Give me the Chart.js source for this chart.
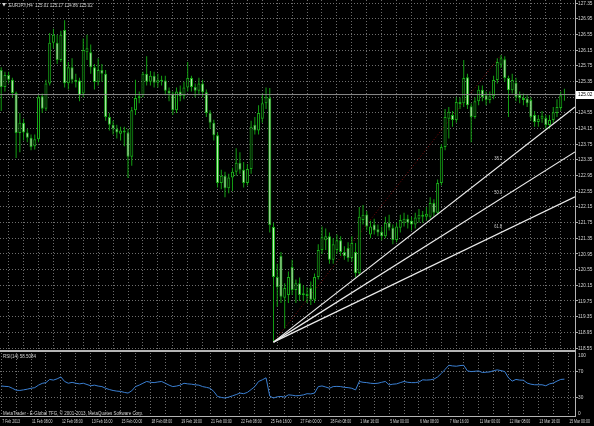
<!DOCTYPE html>
<html><head><meta charset="utf-8">
<script src="https://cdn.jsdelivr.net/npm/chart.js@4/dist/chart.umd.min.js"></script>
<style>
html,body{margin:0;padding:0;background:#000;width:594px;height:426px;overflow:hidden}
canvas{position:absolute;left:0}
#main{top:0}
#rsi{top:351px}
</style></head>
<body>
<canvas id="main" width="594" height="351"></canvas>
<canvas id="rsi" width="594" height="75"></canvas>
<script>
// ---------------- data ----------------
const symbolTitle = 'EURJPY,H4  125.01 125.17 124.86 125.02';
const rsiTitle = 'RSI(14) 58.5084';
const copyrightText = 'MetaTrader - E-Global TFG, \u00A9 2001-2013, MetaQuotes Software Corp.';

const opens = [125.65,125.21,125.52,125.40,125.06,124.04,124.30,124.05,123.92,123.70,
123.88,124.98,124.66,125.30,126.34,126.34,125.90,126.67,125.31,125.72,
125.40,125.38,125.05,126.10,126.10,125.72,125.35,125.65,125.55,124.45,
124.25,124.15,124.02,124.10,124.05,123.43,124.62,124.93,125.00,125.55,
125.35,125.50,125.32,125.40,125.38,125.12,125.05,124.62,125.10,124.98,
125.20,125.44,125.21,125.12,125.30,125.08,124.55,124.30,123.98,122.76,
122.95,122.63,122.90,123.05,123.28,123.10,122.76,123.12,124.25,124.10,
124.40,124.80,124.93,121.64,120.36,120.90,119.83,119.90,120.62,120.03,
120.20,119.90,119.93,120.08,119.78,120.36,121.05,121.30,121.40,120.80,
121.05,121.30,121.00,121.10,120.85,121.00,120.46,121.82,121.96,121.45,
121.70,121.58,121.52,121.40,121.75,121.62,121.31,121.62,121.75,121.85,
121.80,121.70,121.85,121.95,121.90,121.90,122.25,122.00,122.76,123.68,
124.40,124.50,124.37,124.83,124.80,125.46,124.72,124.45,124.85,125.14,
125.00,124.88,124.98,125.39,125.78,125.92,125.44,125.13,125.32,125.01,
124.93,124.92,124.88,124.50,124.32,124.40,124.42,124.24,124.37,124.55,
124.68,125.01];
const highs = [125.72,125.60,125.60,125.45,125.10,124.55,124.40,124.15,124.00,124.00,
125.00,125.05,125.40,126.59,126.70,126.55,126.65,126.92,125.85,125.95,
125.55,125.45,126.45,126.55,126.30,125.80,125.95,125.80,125.65,124.55,
124.35,124.25,124.20,124.20,124.15,124.70,125.40,125.10,125.60,126.00,
125.62,125.60,125.55,125.50,125.50,125.20,125.10,125.20,125.25,125.35,
125.85,125.50,125.30,125.45,125.40,125.15,124.62,124.38,124.05,123.10,
123.05,123.00,123.15,123.65,123.55,123.30,123.25,124.35,124.45,124.75,
125.05,125.20,125.19,121.75,120.70,121.00,120.20,120.50,120.80,120.30,
120.35,120.15,120.10,120.25,120.45,121.20,121.65,121.60,121.50,121.35,
121.45,121.40,121.15,121.25,121.40,121.23,122.15,122.20,122.05,121.80,
121.85,121.70,121.65,121.90,121.95,121.70,121.75,121.95,122.00,121.95,
121.90,122.00,122.10,122.05,122.15,122.40,122.35,122.85,123.75,124.65,
124.70,124.60,124.95,124.95,125.90,125.55,124.80,124.95,125.25,125.25,
125.10,125.10,125.50,125.95,126.03,126.00,125.50,125.55,125.45,125.10,
125.05,125.00,124.95,124.60,124.50,124.60,124.50,124.50,124.70,124.90,
125.10,125.17];
const lows = [124.60,125.10,125.30,124.95,123.40,123.55,123.85,123.80,123.60,123.62,
123.80,124.55,124.60,125.25,126.20,125.80,125.85,125.20,125.15,125.30,
125.20,124.85,124.95,125.90,125.55,125.15,125.25,125.35,124.35,124.10,
124.00,123.90,123.85,123.70,122.89,123.20,124.50,124.80,124.95,125.25,
125.25,125.20,125.20,125.25,125.00,124.85,124.50,124.55,124.85,124.90,
125.10,125.10,124.95,125.00,124.95,124.45,124.15,123.85,122.65,122.60,
122.40,122.50,122.55,122.95,123.00,122.65,122.70,123.00,124.00,124.00,
124.30,124.65,121.50,118.70,119.60,119.70,119.05,119.70,119.90,119.70,
119.75,119.75,119.70,119.65,119.70,120.30,120.95,121.05,120.70,120.70,
120.95,120.90,120.80,120.75,120.75,120.35,120.40,121.70,121.55,121.35,
121.45,121.40,121.30,121.35,121.55,121.20,121.25,121.50,121.65,121.60,
121.55,121.60,121.75,121.75,121.80,121.85,121.90,121.95,122.70,123.60,
123.90,124.20,124.30,124.65,124.70,124.65,123.80,124.40,124.75,124.85,
124.75,124.80,124.90,125.30,125.70,125.35,124.45,125.05,124.85,124.80,
124.75,124.70,124.35,124.20,124.20,124.30,124.15,124.15,124.30,124.45,
124.60,124.86];
const closes = [125.21,125.52,125.40,125.06,124.04,124.30,124.05,123.92,123.68,123.88,
124.95,124.66,125.30,126.34,126.55,125.90,126.55,125.31,125.72,125.40,
125.34,125.00,126.16,126.20,125.72,125.34,125.65,125.55,124.45,124.25,
124.15,124.05,124.10,124.05,123.43,124.62,124.93,124.98,125.55,125.35,
125.50,125.32,125.40,125.36,125.12,125.05,124.62,125.10,124.98,125.20,
125.44,125.21,125.12,125.30,125.08,124.55,124.30,123.98,122.76,122.95,
122.63,122.90,123.05,123.28,123.10,122.76,123.12,124.20,124.10,124.55,
124.80,124.95,121.69,120.36,120.10,119.86,120.08,120.36,120.03,120.20,
119.90,119.95,119.88,119.78,120.36,121.05,121.38,121.40,120.80,121.20,
121.30,121.00,120.90,120.85,121.23,120.46,121.90,121.95,121.65,121.65,
121.55,121.50,121.40,121.75,121.62,121.31,121.65,121.82,121.85,121.75,
121.70,121.88,121.95,121.90,121.98,122.25,122.00,122.76,123.68,124.45,
124.58,124.37,124.83,124.78,125.44,124.75,124.45,124.85,125.14,124.95,
124.88,124.98,125.39,125.85,125.95,125.44,125.13,125.39,124.95,124.93,
124.88,124.80,124.45,124.32,124.40,124.48,124.24,124.37,124.57,124.70,
125.00,125.02];
const rsiValues = [47.7,47,46.7,44,41,40.6,41.5,42.6,44,45,
49,51.8,53,58,57,59,62,54.8,52,53.4,
52,51,52,50,48,49,47.5,46.7,44,42,
40.5,39.5,39,37.5,36.4,40,46.7,49,52,54.8,
53.5,53,54,54.8,52,49,46.7,47.5,49,52,
51,50.5,49.5,49,46.7,45.5,44,39,31,29.5,
28.5,30,32,34,36.4,35.4,37.5,42,46.7,54.8,
57.4,60.6,31.5,28.5,30.5,31,30,33.6,33,32,
32.5,33.5,35.4,35,36.4,46.6,47.7,46,44,46.7,
47,46.7,45.5,45,44,41.4,54.8,53.5,53,52,
51.5,52,53.5,54.8,49.4,50.5,51,53,54.8,53.5,
53,53,54,57.4,57,57.4,58.5,62,67.5,74,
80.5,79.5,79,80,80.5,71.6,70.5,71,71.6,69,
69.5,70,72,73.2,72,70.5,60.6,55.4,58,57,
56.8,52.3,50.5,49.6,49.6,49.6,48,51,52.3,55.4,
58,58.5];
const priceTicks = [127.35,126.95,126.55,126.15,125.75,125.35,124.95,124.55,124.15,123.75,
123.35,122.95,122.55,122.15,121.75,121.35,120.95,120.55,120.15,119.75,119.35,118.95,118.55];
const timeLabels = ['7 Feb 2013','11 Feb 08:00','12 Feb 08:00','13 Feb 16:00','15 Feb 00:00',
'18 Feb 08:00','19 Feb 16:00','21 Feb 00:00','22 Feb 08:00','25 Feb 16:00','27 Feb 00:00',
'28 Feb 08:00','1 Mar 16:00','5 Mar 00:00','6 Mar 08:00','7 Mar 16:00','11 Mar 00:00',
'12 Mar 08:00','13 Mar 16:00','15 Mar 00:00'];
const barsPerLabel = 8;
const barsPerGrid = 4;
const bidPrice = 125.02;
const fanLow = {bar: 73, price: 118.70};
const fanHigh = {bar: 134, price: 126.03};
const fanLevels = [38.2, 50.0, 61.8];
const rsiLevels = [70, 30];
const rsiAxisLabels = [100, 70, 30, 0];

// ---------------- options ----------------
const X_MIN = -0.32, X_MAX = 153.83;
const Y_MIN = 118.499, Y_MAX = 127.434;
const FONT_FAMILY = "'Liberation Sans',Arial,sans-serif";
const FONT_SIZE = 5.5;
const FONT = FONT_SIZE + 'px ' + FONT_FAMILY;
const TEXT = '#d4d4d4';
const GRID = '#6e6e6e';
const FRAME = '#b4b4b4';
const WICK = '#13a013';
const BULL_FILL = '#000000';
const BEAR_FILL = '#c4f2bc';
const EDGE = '#19ac19';

Chart.defaults.font.family = FONT_FAMILY;
Chart.defaults.font.size = FONT_SIZE;
Chart.defaults.color = TEXT;

const idx = opens.map((_, i) => i);
const gridBars = [];
for (let b = 0; b <= X_MAX; b += barsPerGrid) gridBars.push(b);

function fanPrice(level, bar) {
  const through = fanHigh.price - level / 100 * (fanHigh.price - fanLow.price);
  return fanLow.price + (through - fanLow.price) * (bar - fanLow.bar) / (fanHigh.bar - fanLow.bar);
}
const fanDatasets = fanLevels.map(l => ({
  type: 'line', order: 0,
  data: [{x: fanLow.bar, y: fanLow.price}, {x: X_MAX, y: fanPrice(l, X_MAX)}],
  borderColor: '#ececec', borderWidth: 1.2, pointRadius: 0, tension: 0
}));

// condensed text helper (the reference uses a narrow UI font)
function text(ctx, str, x, y, sx, align, baseline) {
  ctx.save();
  ctx.translate(x, y);
  ctx.scale(sx, 1);
  ctx.textAlign = align || 'left';
  ctx.textBaseline = baseline || 'middle';
  ctx.fillText(str, 0, 0);
  ctx.restore();
}

const mainPlugin = {
  id: 'mainDecor',
  afterDraw(chart) {
    const {ctx, chartArea: a, scales: {x, y}} = chart;
    ctx.save();
    ctx.strokeStyle = FRAME; ctx.lineWidth = 1;
    ctx.beginPath();
    ctx.moveTo(a.right + 0.5, 0); ctx.lineTo(a.right + 0.5, a.bottom + 1);
    ctx.moveTo(0, a.bottom + 0.5); ctx.lineTo(a.right, a.bottom + 0.5);
    ctx.stroke();
    ctx.font = FONT;
    // price axis labels
    ctx.fillStyle = TEXT;
    priceTicks.forEach(v => text(ctx, v.toFixed(2), a.right + 3, y.getPixelForValue(v), 0.86));
    // fan labels
    ctx.fillStyle = '#c8c8c8';
    fanLevels.forEach(l => {
      const px = x.getPixelForValue(fanHigh.bar) - 3;
      const py = y.getPixelForValue(fanPrice(l, fanHigh.bar)) - 3;
      text(ctx, l.toFixed(1), px, py, 0.72, 'center', 'bottom');
    });
    // bid label
    const by = y.getPixelForValue(bidPrice);
    ctx.fillStyle = '#ffffff';
    ctx.fillRect(a.right + 1, Math.round(by) - 4, 18, 8);
    ctx.fillStyle = '#000000';
    text(ctx, bidPrice.toFixed(2), a.right + 3, by, 0.86);
    // title
    ctx.fillStyle = TEXT;
    ctx.beginPath(); ctx.moveTo(2, 3); ctx.lineTo(6, 3); ctx.lineTo(4, 6.5); ctx.closePath(); ctx.fill();
    text(ctx, symbolTitle, 9, 5, 0.8);
    ctx.restore();
  }
};

new Chart(document.getElementById('main'), {
  type: 'bar',
  data: {
    datasets: [
      ...fanDatasets,
      {type: 'line', order: 0, data: [{x: X_MIN, y: bidPrice}, {x: X_MAX, y: bidPrice}],
       borderColor: '#8a8a8a', borderWidth: 1, pointRadius: 0},
      {type: 'bar', order: 1, grouped: false, barThickness: 3, minBarLength: 1,
       data: idx.map(i => ({x: i, y: [opens[i], closes[i]]})),
       backgroundColor: idx.map(i => closes[i] >= opens[i] ? BULL_FILL : BEAR_FILL),
       borderColor: EDGE, borderWidth: 1, borderSkipped: false, inflateAmount: 0},
      {type: 'bar', order: 2, grouped: false, barThickness: 1,
       data: idx.map(i => ({x: i, y: [lows[i], highs[i]]})),
       backgroundColor: WICK, borderWidth: 0, inflateAmount: 0},
      {type: 'line', order: 3, data: [{x: fanLow.bar, y: fanLow.price}, {x: fanHigh.bar, y: fanHigh.price}],
       borderColor: '#7a0a0a', borderWidth: 1, borderDash: [1, 2], pointRadius: 0}
    ]
  },
  options: {
    responsive: false, animation: false, devicePixelRatio: 1, events: [],
    layout: {padding: {left: 0, right: 0, top: 0, bottom: 1}},
    plugins: {legend: {display: false}, tooltip: {enabled: false}},
    scales: {
      x: {type: 'linear', min: X_MIN, max: X_MAX, offset: false,
        afterBuildTicks: s => { s.ticks = gridBars.map(v => ({value: v})); },
        ticks: {display: false},
        grid: {color: GRID, drawTicks: false},
        border: {display: false, dash: [1, 2]},
        afterFit: s => { s.height = 0; s.paddingLeft = 0; s.paddingRight = 0; }},
      y: {type: 'linear', position: 'right', min: Y_MIN, max: Y_MAX,
        afterBuildTicks: s => { s.ticks = priceTicks.map(v => ({value: v})); },
        ticks: {display: false},
        grid: {color: GRID, drawTicks: true, tickLength: 3, tickColor: '#a8a8a8', tickBorderDash: []},
        border: {display: false, dash: [1, 2]},
        afterFit: s => { s.width = 19; s.paddingTop = 0; s.paddingBottom = 0; }}
    }
  },
  plugins: [mainPlugin]
});

const rsiPlugin = {
  id: 'rsiDecor',
  afterDraw(chart) {
    const {ctx, chartArea: a, scales: {x, y}} = chart;
    ctx.save();
    ctx.strokeStyle = FRAME; ctx.lineWidth = 1;
    ctx.beginPath();
    ctx.moveTo(0, 0.5); ctx.lineTo(a.right, 0.5);
    ctx.moveTo(a.right + 0.5, 0); ctx.lineTo(a.right + 0.5, a.bottom + 1);
    ctx.moveTo(0, a.bottom + 0.5); ctx.lineTo(a.right, a.bottom + 0.5);
    ctx.stroke();
    ctx.font = FONT;
    ctx.fillStyle = TEXT;
    rsiAxisLabels.forEach(v => {
      const py = y.getPixelForValue(v);
      const base = v === 100 ? 'top' : (v === 0 ? 'bottom' : 'middle');
      text(ctx, String(v), a.right + 3, py + (v === 100 ? 0 : 0), 0.86, 'left', base);
    });
    // time axis labels
    timeLabels.forEach((t, k) => {
      text(ctx, t, x.getPixelForValue(k * barsPerLabel) + 1, a.bottom + 5, 0.64, 'left', 'middle');
    });
    text(ctx, rsiTitle, 3, 5, 0.82);
    text(ctx, copyrightText, 3, a.bottom - 3, 0.81);
    ctx.restore();
  }
};

new Chart(document.getElementById('rsi'), {
  type: 'line',
  data: {
    datasets: [{
      data: idx.map(i => ({x: i, y: rsiValues[i]})),
      borderColor: '#3a7fd2', borderWidth: 1, pointRadius: 0, tension: 0
    }]
  },
  options: {
    responsive: false, animation: false, devicePixelRatio: 1, events: [],
    layout: {padding: {left: 0, right: 0, top: 2, bottom: 0}},
    plugins: {legend: {display: false}, tooltip: {enabled: false}},
    scales: {
      x: {type: 'linear', min: X_MIN, max: X_MAX, offset: false,
        afterBuildTicks: s => { s.ticks = gridBars.map(v => ({value: v})); },
        ticks: {display: false},
        grid: {color: GRID, drawTicks: false},
        border: {display: false, dash: [1, 2]},
        afterFit: s => { s.height = 10; s.paddingLeft = 0; s.paddingRight = 0; }},
      y: {type: 'linear', position: 'right', min: 0, max: 100,
        afterBuildTicks: s => { s.ticks = rsiLevels.map(v => ({value: v})); },
        ticks: {display: false},
        grid: {color: GRID, drawTicks: true, tickLength: 3, tickColor: '#a8a8a8', tickBorderDash: []},
        border: {display: false, dash: [1, 2]},
        afterFit: s => { s.width = 19; s.paddingTop = 0; s.paddingBottom = 0; }}
    }
  },
  plugins: [rsiPlugin]
});
</script>
</body></html>
